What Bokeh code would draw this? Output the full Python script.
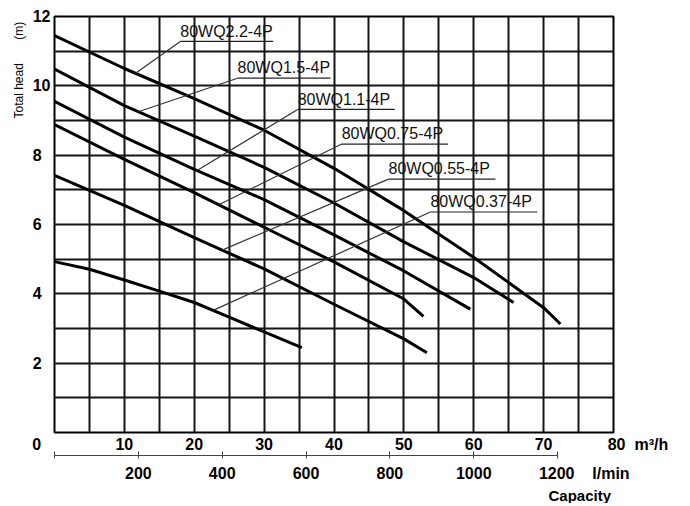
import numpy as np
from bokeh.plotting import figure
from bokeh.models import Range1d, LinearAxis, FixedTicker, Label, Title
from bokeh.embed import file_html
from bokeh.resources import INLINE

# ---- data (capacity m3/h, total head m) ----
q_22 = [0, 10, 20, 30, 40, 50, 60, 70, 72.4]
h_22 = [11.45, 10.5, 9.63, 8.72, 7.62, 6.4, 5.05, 3.6, 3.13]
q_15 = [0, 10, 20, 30, 40, 50, 60, 65.7]
h_15 = [10.48, 9.43, 8.55, 7.65, 6.62, 5.5, 4.47, 3.75]
q_11 = [0, 10, 20, 30, 40, 50, 59.5]
h_11 = [9.55, 8.52, 7.59, 6.72, 5.7, 4.66, 3.56]
q_075 = [0, 10, 20, 30, 40, 50, 52.8]
h_075 = [8.88, 7.88, 6.92, 5.92, 4.92, 3.85, 3.35]
q_055 = [0, 10, 20, 30, 40, 50, 53.3]
h_055 = [7.42, 6.55, 5.62, 4.72, 3.7, 2.7, 2.3]
q_037 = [0, 5, 10, 15, 20, 25, 30, 35.4]
h_037 = [4.93, 4.71, 4.4, 4.08, 3.75, 3.33, 2.9, 2.45]

series_names = ["80WQ2.2-4P", "80WQ1.5-4P", "80WQ1.1-4P",
                "80WQ0.75-4P", "80WQ0.55-4P", "80WQ0.37-4P"]
series_q = [q_22, q_15, q_11, q_075, q_055, q_037]
series_h = [h_22, h_15, h_11, h_075, h_055, h_037]

# label anchors (data units), underline length, and leader end capacity
label_x = [18.0, 26.2, 34.8, 41.1, 47.8, 53.8]
label_y = [11.28, 10.22, 9.32, 8.32, 7.31, 6.36]
label_len = [13.3, 13.3, 13.9, 15.2, 15.3, 15.3]
leader_q = [11.6, 12.0, 20.4, 23.5, 24.0, 22.7]

y_ticks = [2, 4, 6, 8, 10, 12]
x_ticks = [0, 10, 20, 30, 40, 50, 60, 70, 80]
lmin_ticks = [0, 200, 400, 600, 800, 1000, 1200]
x_grid = list(range(0, 81, 5))
y_grid = list(range(0, 13))

x_unit = "m\u00b3/h"
lmin_unit = "l/min"
y_title = "Total head"
y_unit = "(m)"
x_title = "Capacity"

FONT = "Liberation Sans"
NB = "\u00a0"

p = figure(frame_width=559, frame_height=416,
           x_range=Range1d(0, 80), y_range=Range1d(0, 12),
           output_backend="svg", toolbar_location=None,
           min_border_left=54, min_border_top=16,
           min_border_right=69, min_border_bottom=20,
           background_fill_color="white", border_fill_color="white")

p.outline_line_color = "black"
p.outline_line_width = 2

p.xgrid.ticker = FixedTicker(ticks=x_grid)
p.ygrid.ticker = FixedTicker(ticks=y_grid)
for g in (p.xgrid, p.ygrid):
    g.grid_line_color = "#151515"
    g.grid_line_width = 2
    g.grid_line_alpha = 1.0

# y axis (single digits padded so labels look left aligned)
ya = p.yaxis[0]
ya.ticker = FixedTicker(ticks=y_ticks)
ya.major_label_overrides = {t: (str(t) if t >= 10 else str(t) + NB * 2) for t in y_ticks}
ya.axis_line_color = None
ya.major_tick_line_color = None
ya.minor_tick_line_color = None
ya.major_tick_in = 0
ya.major_tick_out = 0
ya.major_label_standoff = 4
ya.major_label_text_font = FONT
ya.major_label_text_font_size = "16px"
ya.major_label_text_font_style = "bold"
ya.major_label_text_color = "black"

# x axis (m3/h)
xa = p.xaxis[0]
xa.ticker = FixedTicker(ticks=x_ticks)
xa.major_label_overrides = {0: "0" + NB * 8,
                            80: NB * 11 + "80" + NB * 2 + x_unit}
xa.axis_line_color = None
xa.major_tick_line_color = None
xa.minor_tick_line_color = None
xa.major_tick_in = 0
xa.major_tick_out = 0
xa.major_label_standoff = 3
xa.major_label_text_font = FONT
xa.major_label_text_font_size = "16px"
xa.major_label_text_font_style = "bold"
xa.major_label_text_color = "black"

# second x axis (l/min)
p.extra_x_ranges = {"lmin": Range1d(0, 80 * 1000 / 60)}
ax2 = LinearAxis(x_range_name="lmin", ticker=FixedTicker(ticks=lmin_ticks),
                 bounds=(0, 1200),
                 major_label_overrides={0: "",
                                        1200: NB * 12 + "1200" + NB * 4 + lmin_unit})
ax2.axis_line_color = "#444444"
ax2.axis_line_width = 1
ax2.major_tick_line_color = "#444444"
ax2.major_tick_line_width = 1
ax2.major_tick_in = 4
ax2.major_tick_out = 3
ax2.minor_tick_line_color = None
ax2.major_label_standoff = 6
ax2.major_label_text_font = FONT
ax2.major_label_text_font_size = "16px"
ax2.major_label_text_font_style = "bold"
ax2.major_label_text_color = "black"
p.add_layout(ax2, "below")

# titles in side panels
p.add_layout(Title(text=x_title, align="left", offset=494, standoff=0,
                   text_font=FONT, text_font_size="15px",
                   text_font_style="bold", text_color="black"), "below")
p.add_layout(Title(text=y_title + NB * 7 + y_unit, align="left", offset=314,
                   standoff=8, text_font=FONT, text_font_size="12px",
                   text_font_style="normal", text_color="black"), "left")

# curves
for q, h in zip(series_q, series_h):
    p.line(q, h, line_color="black", line_width=3)

# labels, underlines and leaders
for name, q, h, lx, ly, ll, lq in zip(series_names, series_q, series_h,
                                       label_x, label_y, label_len, leader_q):
    p.add_layout(Label(x=lx, y=ly + 0.3, text=name,
                       text_font=FONT, text_font_size="16px",
                       text_align="left", text_baseline="alphabetic",
                       text_color="#111111"))
    p.line([lx, lx + ll], [ly, ly], line_color="#222222", line_width=1.2)
    p.line([lx, lq], [ly, float(np.interp(lq, q, h))],
           line_color="#333333", line_width=1.2)

open("out.html", "w").write(file_html(p, INLINE))
